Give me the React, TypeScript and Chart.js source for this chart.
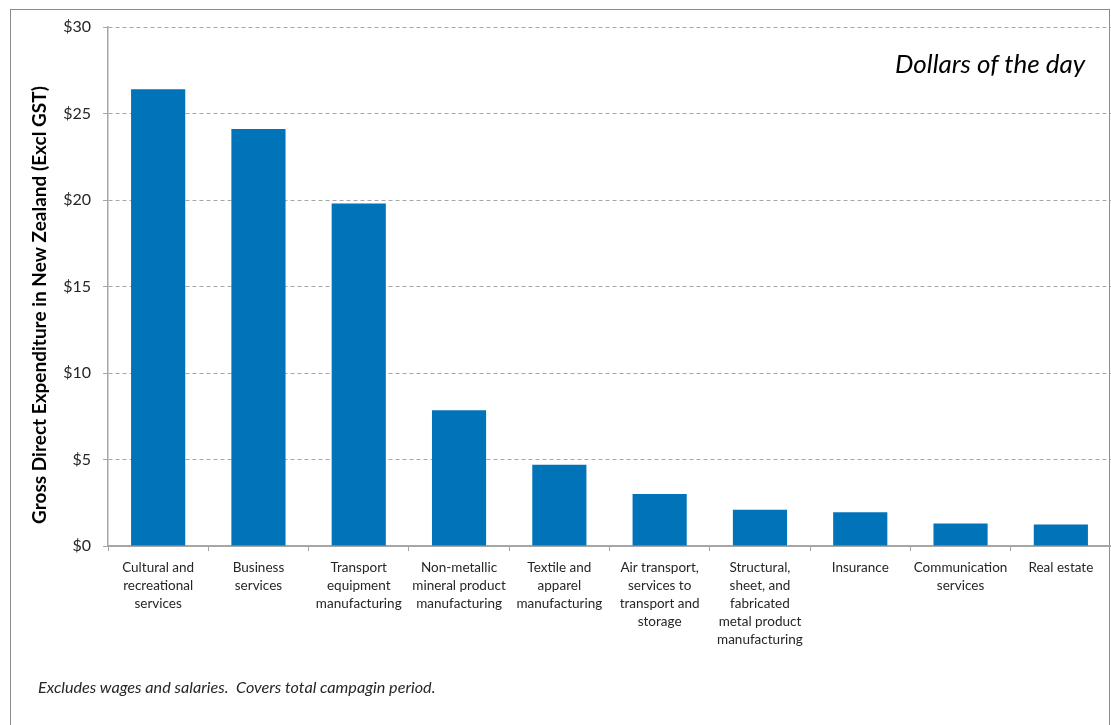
import React, { useEffect, useRef } from "react";
import { Chart, registerables } from "chart.js";

Chart.register(...registerables);

const categories: string[][] = [
  ["Cultural and", "recreational", "services"],
  ["Business", "services"],
  ["Transport", "equipment", "manufacturing"],
  ["Non-metallic", "mineral product", "manufacturing"],
  ["Textile and", "apparel", "manufacturing"],
  ["Air transport,", "services to", "transport and", "storage"],
  ["Structural,", "sheet, and", "fabricated", "metal product", "manufacturing"],
  ["Insurance"],
  ["Communication", "services"],
  ["Real estate"],
];

const expenditure: number[] = [26.4, 24.1, 19.8, 7.85, 4.7, 3.0, 2.1, 1.95, 1.3, 1.25];

const yTicks: number[] = [0, 5, 10, 15, 20, 25, 30];

const yTitle = "Gross Direct Expenditure in New Zealand (Excl GST)";

const FONT = "Lato, 'Noto Sans', sans-serif";

const yTitlePlugin = {
  id: "yTitlePlugin",
  afterDraw(chart: any) {
    const ctx = chart.ctx;
    ctx.save();
    ctx.translate(40, 305);
    ctx.rotate(-Math.PI / 2);
    ctx.textAlign = "center";
    ctx.textBaseline = "middle";
    ctx.fillStyle = "#000000";
    ctx.font = "bold 19px " + FONT;
    ctx.fillText(yTitle, 0, 0);
    ctx.restore();
  },
};

export default function App() {
  const ref = useRef<HTMLCanvasElement | null>(null);

  useEffect(() => {
    if (!ref.current) return;
    const chart = new Chart(ref.current, {
      type: "bar",
      data: {
        labels: categories,
        datasets: [
          {
            data: expenditure,
            backgroundColor: "#0073B9",
            borderWidth: 0,
            barPercentage: 0.54,
            categoryPercentage: 1,
          },
        ],
      },
      plugins: [yTitlePlugin],
      options: {
        responsive: false,
        animation: false,
        layout: { padding: { left: 0, right: 0, top: 27, bottom: 0 } },
        plugins: {
          legend: { display: false },
          tooltip: { enabled: false },
        },
        scales: {
          x: {
            afterFit: (s: any) => {
              s.height = 179;
            },
            grid: {
              offset: true,
              drawOnChartArea: false,
              drawTicks: true,
              tickLength: 5,
              color: "#A6A6A6",
              tickColor: "#A6A6A6",
            },
            border: { display: true, color: "#A6A6A6", width: 2 },
            ticks: {
              color: "#262626",
              padding: 8,
              maxRotation: 0,
              autoSkip: false,
              font: { family: FONT, size: 13.5, lineHeight: 1.33 },
            },
          },
          y: {
            min: 0,
            max: 30,
            afterFit: (s: any) => {
              s.width = 108;
            },
            afterBuildTicks: (s: any) => {
              s.ticks = yTicks.map((v) => ({ value: v }));
            },
            grid: {
              color: "#A6A6A6",
              tickColor: "#A6A6A6",
              tickLength: 5,
              tickBorderDash: [],
              lineWidth: 1,
            },
            border: { display: true, color: "#A6A6A6", width: 1.5, dash: [4, 3] },
            ticks: {
              color: "#262626",
              padding: 12,
              font: { family: FONT, size: 16 },
              callback: (v: any) => "$" + v,
            },
          },
        },
      },
    });
    return () => chart.destroy();
  }, []);

  return (
    <div
      style={{
        position: "absolute",
        left: 0,
        top: 0,
        width: 1111,
        height: 725,
        overflow: "hidden",
        background: "#ffffff",
      }}
    >
      <div
        style={{
          position: "absolute",
          left: 10,
          top: 9,
          width: 1100,
          height: 760,
          border: "1px solid #8C8C8C",
          boxSizing: "border-box",
        }}
      />
      <canvas
        ref={ref}
        width={1111}
        height={725}
        style={{ position: "absolute", left: 0, top: 0, width: 1111, height: 725 }}
      />
      <div
        style={{
          position: "absolute",
          left: 895,
          top: 47,
          fontFamily: FONT,
          fontStyle: "italic",
          fontSize: 26,
          lineHeight: "32px",
          color: "#000",
          whiteSpace: "nowrap",
        }}
      >
        Dollars of the day
      </div>
      <div
        style={{
          position: "absolute",
          left: 38,
          top: 677,
          fontFamily: FONT,
          fontStyle: "italic",
          fontSize: 16.2,
          lineHeight: "20px",
          color: "#262626",
          whiteSpace: "pre",
        }}
      >
        {"Excludes wages and salaries.  Covers total campagin period."}
      </div>
    </div>
  );
}
